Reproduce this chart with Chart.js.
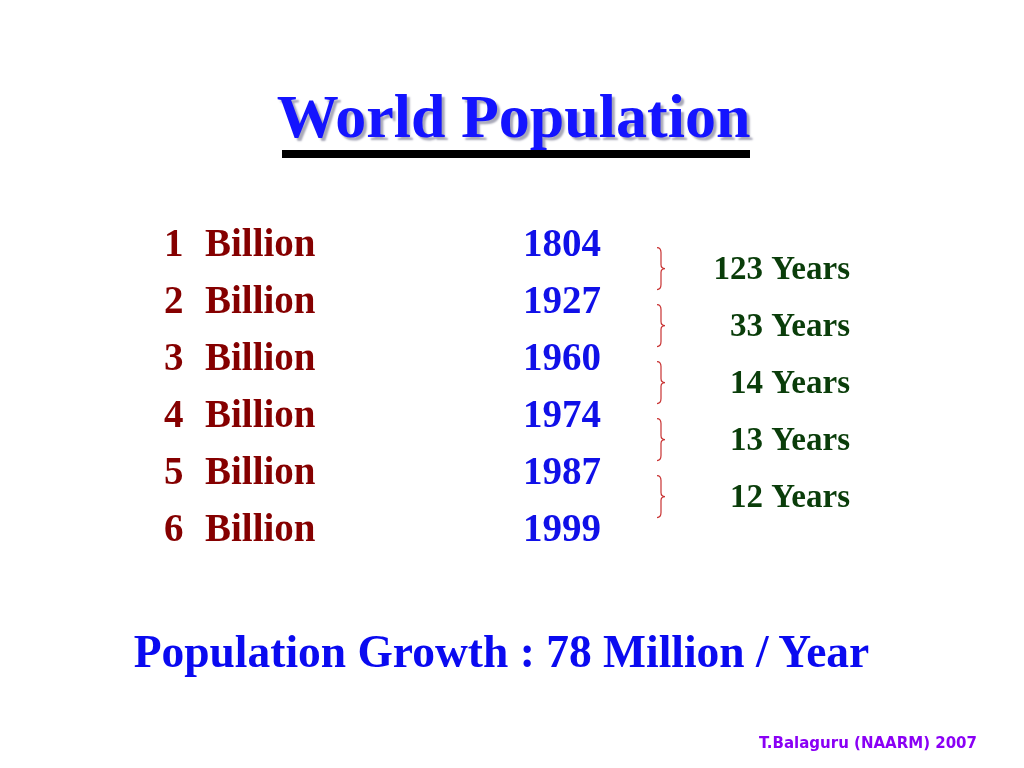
<!DOCTYPE html>
<html>
<head>
<meta charset="utf-8">
<title>World Population</title>
<script src="https://cdn.jsdelivr.net/npm/chart.js@4/dist/chart.umd.min.js"></script>
<style>
  html, body { margin: 0; padding: 0; background: #fff; }
  #slide { position: relative; width: 1024px; height: 768px; overflow: hidden; }
  #slide canvas { position: absolute; left: 0; top: 0; }
  .t { position: absolute; white-space: nowrap; line-height: 1; }
  #title {
    left: 0; width: 1027px; top: 81px; text-align: center;
    font: bold 62px "Liberation Serif", serif; color: #1414ff;
    text-shadow: 3px 3px 2px #a8a8b8;
  }
  #rule { position: absolute; left: 282px; top: 150px; width: 468px; height: 8px; background: #000; }
  #growth {
    left: 0; width: 1003px; top: 625px; text-align: center;
    font: bold 45.5px "Liberation Serif", serif; color: #0a0af0;
  }
  #credit {
    right: 47px; top: 734px;
    font: bold 15px "DejaVu Sans", sans-serif; color: #8a00f5;
  }
</style>
</head>
<body>
<div id="slide">
  <canvas id="pop" width="1024" height="768"></canvas>
  <div class="t" id="title">World Population</div>
  <div id="rule"></div>
  <div class="t" id="growth">Population Growth : 78 Million / Year</div>
  <div class="t" id="credit">T.Balaguru (NAARM) 2007</div>
</div>
<script>
// values
const billions = [1, 2, 3, 4, 5, 6];
const years = [1804, 1927, 1960, 1974, 1987, 1999];
const gaps = [123, 33, 14, 13, 12];

// column positions on the x scale (0..1024 = canvas width)
const COL = { count: 164, unit: 205, year: 523, brace: 657, gap: 850 };

const rowFont = 'bold 39px "Liberation Serif", serif';
const gapFont = 'bold 33px "Liberation Serif", serif';

function brace(ctx, x0, cy, h) {
  ctx.beginPath();
  ctx.moveTo(x0, cy - h);
  ctx.quadraticCurveTo(x0 + 4, cy - h, x0 + 4, cy - h + 5);
  ctx.lineTo(x0 + 4, cy - 4);
  ctx.quadraticCurveTo(x0 + 4, cy, x0 + 8, cy);
  ctx.quadraticCurveTo(x0 + 4, cy, x0 + 4, cy + 4);
  ctx.lineTo(x0 + 4, cy + h - 5);
  ctx.quadraticCurveTo(x0 + 4, cy + h, x0, cy + h);
  ctx.stroke();
}

const slideText = {
  id: 'slideText',
  afterDatasetsDraw(chart) {
    const ctx = chart.ctx;
    const y = chart.scales.y;
    const rows = chart.getDatasetMeta(0).data;
    const spans = chart.getDatasetMeta(1).data;
    ctx.save();
    ctx.textBaseline = 'alphabetic';

    ctx.font = rowFont;
    rows.forEach((pt, i) => {
      ctx.textAlign = 'left';
      ctx.fillStyle = '#850000';
      ctx.fillText(String(billions[i]), COL.count, pt.y);
      ctx.fillText('Billion', COL.unit, pt.y);
      ctx.fillStyle = '#1010e8';
      ctx.fillText(String(years[i]), pt.x, pt.y);
    });

    ctx.font = gapFont;
    ctx.textAlign = 'right';
    ctx.fillStyle = '#0a3d0a';
    ctx.strokeStyle = '#c83232';
    ctx.lineWidth = 1.2;
    spans.forEach((pt, i) => {
      ctx.fillText(gaps[i] + ' Years', pt.x, pt.y);
      const cy = y.getPixelForValue(billions[i] + 0.22);
      brace(ctx, COL.brace, cy, 21);
    });
    ctx.restore();
  }
};

new Chart(document.getElementById('pop'), {
  type: 'scatter',
  data: {
    datasets: [{
      label: 'Year reached',
      data: years.map((yr, i) => ({ x: COL.year, y: billions[i] })),
      pointRadius: 0,
    }, {
      label: 'Years between',
      data: gaps.map((g, i) => ({ x: COL.gap, y: billions[i] + 0.4 })),
      pointRadius: 0,
    }]
  },
  options: {
    responsive: false,
    animation: false,
    events: [],
    layout: {
      padding: { left: 0, right: 0, top: 227.5, bottom: 198.5 }
    },
    plugins: {
      legend: { display: false },
      tooltip: { enabled: false }
    },
    scales: {
      x: { type: 'linear', min: 0, max: 1024, display: false },
      y: { type: 'linear', min: 0.5, max: 6.5, reverse: true, display: false }
    }
  },
  plugins: [slideText]
});
</script>
</body>
</html>
